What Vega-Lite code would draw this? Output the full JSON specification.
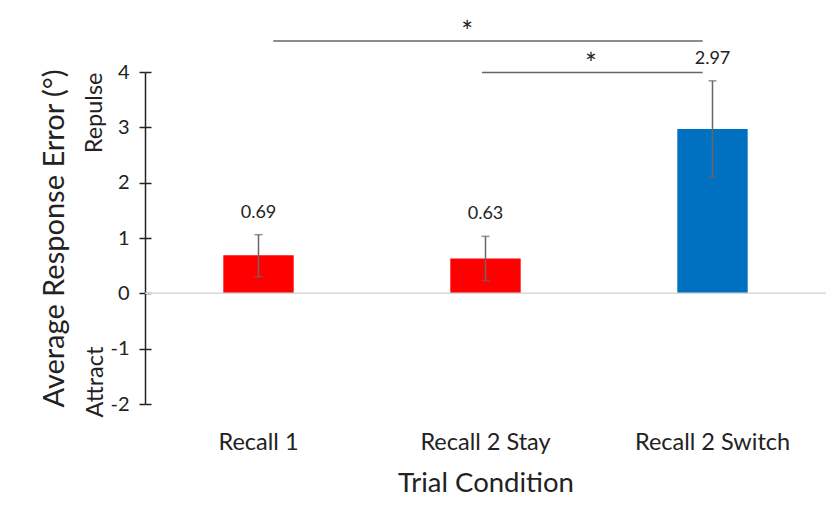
{
  "$schema": "https://vega.github.io/schema/vega-lite/v6.json",
  "width": 681,
  "height": 332,
  "autosize": {"type": "none"},
  "padding": {"left": 145, "top": 72, "right": 0, "bottom": 111},
  "background": "white",
  "config": {
    "view": {"stroke": null},
    "font": "Lato",
    "axis": {"labelFont": "Lato", "titleFont": "Lato", "titleFontWeight": "normal", "labelColor": "#222222", "titleColor": "#222222"}
  },
  "datasets": {
    "bars": [
      {"cond": "Recall 1", "mean": 0.69, "lo": 0.30, "hi": 1.06, "label": "0.69"},
      {"cond": "Recall 2 Stay", "mean": 0.63, "lo": 0.23, "hi": 1.03, "label": "0.63"},
      {"cond": "Recall 2 Switch", "mean": 2.97, "lo": 2.10, "hi": 3.84, "label": "2.97"}
    ],
    "sig": [
      {"id": 1, "from": "Recall 1", "to": "Recall 2 Switch", "level": 4.56, "star_at": "Recall 2 Stay", "star": "*"},
      {"id": 2, "from": "Recall 2 Stay", "to": "Recall 2 Switch", "level": 3.99, "star_at": "Recall 2 Stay", "star": "*"}
    ]
  },
  "resolve": {"axis": {"y": "independent"}},
  "layer": [
    {
      "data": {"name": "bars"},
      "mark": {"type": "bar"},
      "encoding": {
        "x": {
          "field": "cond", "type": "nominal", "sort": null,
          "scale": {"paddingInner": 0.69, "paddingOuter": 0.345},
          "axis": {"title": "Trial Condition", "labelAngle": 0, "domain": false, "ticks": false, "tickSize": 0, "labelPadding": 26, "labelFontSize": 23.5, "titleFontSize": 27.5, "titlePadding": 16}
        },
        "y": {
          "field": "mean", "type": "quantitative",
          "scale": {"domain": [-2, 4], "nice": false, "zero": false},
          "axis": {"title": "Average Response Error (°)", "orient": "left", "values": [-2, -1, 0, 1, 2, 3, 4], "grid": false, "domainColor": "#222222", "domainWidth": 1.5, "tickColor": "#222222", "tickWidth": 1.5, "tickSize": 6, "labelPadding": 10, "labelFontSize": 20, "titleFontSize": 29, "titlePadding": 40, "labelExpr": "'' + datum.value"}
        },
        "color": {"field": "cond", "type": "nominal", "sort": null, "scale": {"range": ["#FF0000", "#FF0000", "#0070C0"]}, "legend": null}
      }
    },
    {
      "data": {"values": [{"v": 0}]},
      "mark": {"type": "rule", "color": "#D9D9D9", "strokeWidth": 1.5},
      "encoding": {
        "y": {
          "field": "v", "type": "quantitative",
          "axis": {"title": "Repulse", "orient": "left", "values": [-2, -1, 0, 1, 2, 3, 4], "labels": false, "domain": false, "ticks": true, "tickSize": -6, "tickColor": "#222222", "tickWidth": 1.5, "grid": false, "titleAnchor": "end", "titleFontSize": 23.5, "titlePadding": 38}
        }
      }
    },
    {
      "data": {"name": "bars"},
      "mark": {"type": "errorbar", "color": "#666666", "thickness": 1.5, "ticks": {"size": 8}},
      "encoding": {
        "x": {"field": "cond", "type": "nominal", "sort": null},
        "y": {
          "field": "lo", "type": "quantitative",
          "axis": {"title": "Attract", "orient": "left", "labels": false, "domain": false, "ticks": false, "grid": false, "titleAnchor": "start", "titleY": 345, "titleFontSize": 23.5, "titlePadding": 38}
        },
        "y2": {"field": "hi"}
      }
    },
    {
      "data": {"name": "bars"},
      "mark": {"type": "text", "fontSize": 18, "color": "#222222", "baseline": "alphabetic", "dy": -17},
      "encoding": {
        "x": {"field": "cond", "type": "nominal", "sort": null},
        "y": {"field": "hi", "type": "quantitative", "axis": null},
        "text": {"field": "label"}
      }
    },
    {
      "data": {"name": "sig"},
      "transform": [{"filter": "datum.id == 1"}],
      "mark": {"type": "rule", "color": "#666666", "strokeWidth": 1.5},
      "encoding": {
        "x": {"field": "from", "type": "nominal", "sort": null, "bandPosition": 0.71},
        "x2": {"field": "to", "bandPosition": 0.36},
        "y": {"field": "level", "type": "quantitative", "axis": null}
      }
    },
    {
      "data": {"name": "sig"},
      "transform": [{"filter": "datum.id == 2"}],
      "mark": {"type": "rule", "color": "#666666", "strokeWidth": 1.5},
      "encoding": {
        "x": {"field": "from", "type": "nominal", "sort": null, "bandPosition": 0.45},
        "x2": {"field": "to", "bandPosition": 0.36},
        "y": {"field": "level", "type": "quantitative", "axis": null}
      }
    },
    {
      "data": {"name": "sig"},
      "transform": [{"filter": "datum.id == 1"}],
      "mark": {"type": "text", "fontSize": 28, "color": "#222222", "baseline": "alphabetic", "dy": 1},
      "encoding": {
        "x": {"field": "star_at", "type": "nominal", "sort": null, "bandPosition": 0.24},
        "y": {"field": "level", "type": "quantitative", "axis": null},
        "text": {"field": "star"}
      }
    },
    {
      "data": {"name": "sig"},
      "transform": [{"filter": "datum.id == 2"}],
      "mark": {"type": "text", "fontSize": 28, "color": "#222222", "baseline": "alphabetic", "dy": 1},
      "encoding": {
        "x": {"field": "star_at", "type": "nominal", "sort": null, "bandPosition": 2.0},
        "y": {"field": "level", "type": "quantitative", "axis": null},
        "text": {"field": "star"}
      }
    }
  ]
}
